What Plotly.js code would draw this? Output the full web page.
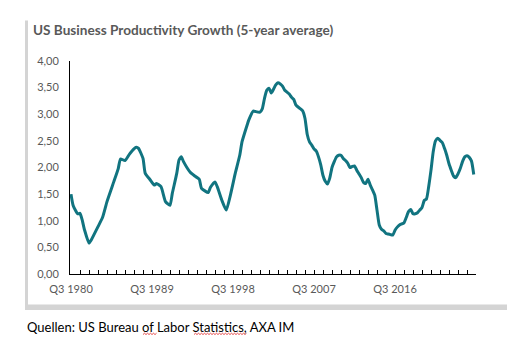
<!DOCTYPE html>
<html>
<head>
<meta charset="utf-8">
<script src="https://cdn.plot.ly/plotly-3.0.1.min.js"></script>
<style>
html,body{margin:0;padding:0;background:#fff;}
#chart{width:532px;height:360px;}
</style>
</head>
<body>
<div id="chart"></div>
<script>
// Quarter labels (year + quarter) and 5-year average productivity growth (%)
const quarters = [
"1980Q3","1980Q4","1981Q2","1981Q3","1981Q4","1982Q1","1982Q3","1982Q4","1983Q3","1984Q1",
"1984Q3","1985Q2","1985Q4","1986Q1","1986Q3","1987Q1","1987Q3","1987Q4","1988Q1","1988Q3",
"1988Q4","1989Q2","1989Q4","1990Q1","1990Q3","1991Q1","1991Q3","1991Q4","1992Q2","1992Q3",
"1992Q4","1993Q1","1993Q4","1994Q2","1994Q4","1995Q1","1995Q4","1996Q1","1996Q3","1996Q4",
"1997Q2","1997Q4","1998Q2","1998Q4","1999Q2","1999Q3","2000Q1","2000Q2","2000Q4","2001Q1",
"2001Q3","2001Q4","2002Q1","2002Q2","2002Q3","2002Q4","2003Q1","2003Q2","2003Q3","2003Q4",
"2004Q1","2004Q2","2004Q4","2005Q1","2005Q2","2005Q3","2006Q1","2006Q2","2006Q3","2006Q4",
"2007Q1","2007Q2","2007Q3","2007Q4","2008Q1","2008Q2","2008Q3","2008Q4","2009Q1","2009Q2",
"2009Q3","2009Q4","2010Q1","2010Q2","2010Q3","2010Q4","2011Q1","2011Q2","2011Q3","2011Q4",
"2012Q1","2012Q2","2012Q3","2012Q4","2013Q1","2013Q2","2013Q3","2013Q4","2014Q1","2014Q2",
"2014Q3","2014Q4","2015Q1","2015Q2","2015Q3","2015Q4","2016Q1","2016Q2","2016Q3","2016Q4",
"2017Q1","2017Q2","2017Q3","2017Q4","2018Q1","2018Q2","2018Q3","2018Q4","2019Q1","2019Q2",
"2019Q3","2019Q4","2020Q1","2020Q2","2020Q3","2020Q4","2021Q1","2021Q2","2021Q3","2021Q4",
"2022Q1","2022Q2","2022Q3","2022Q4","2023Q1","2023Q2","2023Q3","2023Q4","2024Q1","2024Q2",
"2024Q3","2024Q4","2025Q1","2025Q2"
];
const growth = [
1.50,1.28,1.13,1.14,1.01,0.83,0.58,0.64,0.89,1.06,
1.36,1.73,1.98,2.16,2.13,2.25,2.35,2.38,2.36,2.17,
1.89,1.78,1.67,1.70,1.64,1.36,1.29,1.51,1.89,2.14,
2.20,2.11,1.91,1.84,1.78,1.61,1.53,1.63,1.73,1.64,
1.39,1.20,1.51,1.89,2.23,2.48,2.76,2.89,3.06,3.05,
3.04,3.10,3.30,3.45,3.49,3.40,3.47,3.55,3.59,3.57,
3.53,3.45,3.38,3.32,3.28,3.17,3.10,3.06,2.92,2.62,
2.48,2.42,2.35,2.31,2.20,2.05,1.85,1.74,1.69,1.80,
2.00,2.11,2.20,2.23,2.23,2.17,2.13,2.08,2.00,2.02,
2.03,1.95,1.88,1.81,1.72,1.70,1.78,1.67,1.58,1.48,
1.20,0.92,0.84,0.81,0.76,0.75,0.74,0.73,0.82,0.88,
0.92,0.94,0.96,1.06,1.17,1.21,1.13,1.13,1.15,1.20,
1.25,1.38,1.41,1.65,1.95,2.30,2.50,2.55,2.51,2.47,
2.36,2.23,2.07,1.95,1.84,1.81,1.88,1.98,2.11,2.20,
2.22,2.19,2.12,1.87
];
const tickLabels = ["Q3 1980","Q3 1989","Q3 1998","Q3 2007","Q3 2016"];
const yTicks = [0,0.5,1,1.5,2,2.5,3,3.5,4];

function qToNum(s){ const y = parseInt(s.slice(0,4),10); const q = parseInt(s.slice(5),10); return y + (q-1)/4; }
function labelToNum(s){ const p = s.split(" "); return parseInt(p[1],10) + (parseInt(p[0].slice(1),10)-1)/4; }

const xs = quarters.map(qToNum);
const tickVals = tickLabels.map(labelToNum);

const W = 532, H = 360;
const L = 70, R = 476, T = 60.7, B = 274.3;
function px(x){ return (x - L)/(R - L); }
function py(y){ return (B - y)/(B - T); }

const FONT = "Lato, 'Open Sans', sans-serif";

const trace = {
  x: xs, y: growth, type: "scatter", mode: "lines",
  line: {color: "#117480", width: 3, shape: "spline", smoothing: 0.5},
  hoverinfo: "skip"
};

// wavy spell-check underline path in pixel space -> paper coords
function squiggle(x0, x1, y){
  let d = "M" + px(x0).toFixed(4) + "," + py(y).toFixed(4);
  let up = true;
  for (let x = x0 + 1.5; x <= x1 + 0.01; x += 1.5){
    d += " L" + px(x).toFixed(4) + "," + py(up ? y - 1.3 : y).toFixed(4);
    up = !up;
  }
  return d;
}

const layout = {
  width: W, height: H,
  margin: {l: L, r: W - R, t: T, b: H - B, pad: 0},
  paper_bgcolor: "#ffffff", plot_bgcolor: "#ffffff",
  separators: ", ",
  showlegend: false,
  font: {family: FONT, color: "#595959"},
  title: {
    text: "<b>US Business Productivity Growth (5-year average)</b>",
    font: {family: FONT, size: 13.6, color: "#595959"},
    x: 33/W, xref: "container", xanchor: "left",
    y: 1 - 30/H, yref: "container", yanchor: "middle"
  },
  xaxis: {
    range: [1980.5 - 1/9, 2025.5],
    tickvals: tickVals, ticktext: tickLabels,
    ticks: "inside", ticklen: 4, tickcolor: "#000", tickwidth: 1,
    minor: {tick0: 1980.5, dtick: 1, ticks: "inside", ticklen: 4, tickcolor: "#000", tickwidth: 1, showgrid: false},
    showline: true, linecolor: "#000", linewidth: 1,
    showgrid: false, zeroline: false,
    ticklabelstandoff: 5,
    tickfont: {family: FONT, size: 11, color: "#595959"},
    fixedrange: true
  },
  yaxis: {
    range: [0, 4], tickvals: yTicks, tickformat: ".2f",
    ticks: "", showline: true, linecolor: "#000", linewidth: 1,
    showgrid: false, zeroline: false,
    ticklabelstandoff: 8,
    tickfont: {family: FONT, size: 11, color: "#595959"},
    fixedrange: true
  },
  shapes: [
    {type: "rect", xref: "paper", yref: "paper", x0: px(25), x1: px(28), y0: py(310.5), y1: py(20), fillcolor: "#d4d4d4", line: {width: 0}, layer: "below"},
    {type: "rect", xref: "paper", yref: "paper", x0: px(25), x1: px(507), y0: py(310.5), y1: py(305), fillcolor: "#d4d4d4", line: {width: 0}, layer: "below"},
    {type: "path", xref: "paper", yref: "paper", path: squiggle(143, 157, 335), line: {color: "#e02020", width: 0.8}},
    {type: "path", xref: "paper", yref: "paper", path: squiggle(194, 247, 335), line: {color: "#e02020", width: 0.8}}
  ],
  annotations: [
    {text: "Quellen: US Bureau of Labor Statistics, AXA IM", xref: "paper", yref: "paper",
     x: px(25), y: py(327), xanchor: "left", yanchor: "middle", showarrow: false,
     font: {family: FONT, size: 13, color: "#000"}}
  ]
};

Plotly.newPlot("chart", [trace], layout, {displayModeBar: false, staticPlot: true});
</script>
</body>
</html>
